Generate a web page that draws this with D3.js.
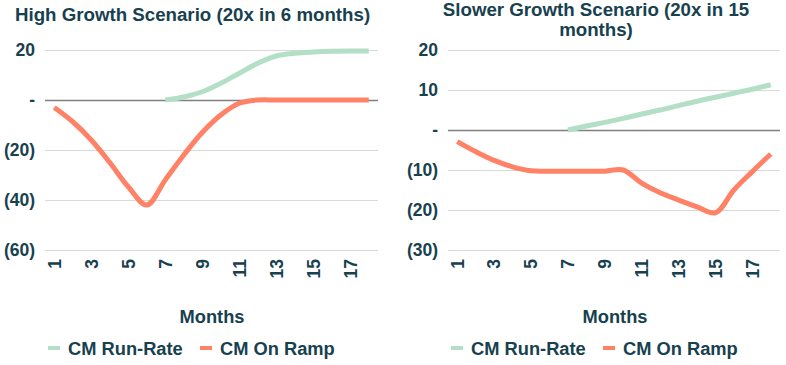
<!DOCTYPE html>
<html>
<head>
<meta charset="utf-8">
<script src="https://cdn.jsdelivr.net/npm/d3@7"></script>
<style>
  html, body { margin: 0; padding: 0; background: #ffffff; }
  svg { display: block; }
  text { font-family: "Liberation Sans", Arial, sans-serif; font-weight: bold; fill: #17414f; }
</style>
</head>
<body>
<svg id="chart" width="786" height="365"></svg>
<script>
// ---- data ----
const months = [1, 2, 3, 4, 5, 6, 7, 8, 9, 10, 11, 12, 13, 14, 15, 16, 17, 18];
const monthTickLabels = [1, 3, 5, 7, 9, 11, 13, 15, 17];

const highRunRate = [null, null, null, null, null, null, 0, 1.2, 3.3, 6.7, 10.7, 14.7, 17.6, 18.7, 19.2, 19.5, 19.6, 19.6];
const highOnRamp  = [-3, -8.7, -16, -25, -34.7, -42, -32, -22, -13, -6, -1.3, 0, 0, 0, 0, 0, 0, 0];
const highTicks   = [20, 0, -20, -40, -60];

const slowRunRate = [null, null, null, null, null, null, 0, 1, 1.9, 2.9, 4, 5, 6.1, 7.2, 8.2, 9.2, 10.2, 11.3];
const slowOnRamp  = [-2.9, -5.4, -7.6, -9.2, -10.2, -10.3, -10.3, -10.3, -10.3, -10, -13.3, -15.7, -17.5, -19.2, -20.7, -15, -10.4, -6];
const slowTicks   = [20, 10, 0, -10, -20, -30];

const seriesNames = ["CM Run-Rate", "CM On Ramp"];
const seriesColors = ["#b3dfc7", "#ff8166"];

const svg = d3.select("#chart");

function fmt(v) {
  if (v === 0) return "-";
  if (v < 0) return "(" + Math.abs(v) + ")";
  return String(v);
}

function panel(cfg) {
  const g = svg.append("g");
  const x = d3.scaleBand().domain(months).range([cfg.x0, cfg.x1]);
  const y = d3.scaleLinear().domain([d3.min(cfg.ticks), d3.max(cfg.ticks)]).range([250, 50]);
  const cx = m => x(m) + x.bandwidth() / 2;

  // title (one text element per line)
  cfg.title.forEach((line, i) => {
    g.append("text")
      .attr("x", cfg.titleX)
      .attr("y", cfg.titleY + i * cfg.titleLH)
      .attr("text-anchor", cfg.titleAnchor)
      .style("font-size", "18.7px")
      .text(line);
  });

  // y axis + gridlines
  const ya = g.append("g")
    .attr("transform", `translate(${cfg.x0},0)`)
    .call(d3.axisLeft(y).tickValues(cfg.ticks).tickSize(-(cfg.x1 - cfg.x0)).tickPadding(10).tickFormat(fmt));
  ya.select(".domain").remove();
  ya.selectAll(".tick line")
    .attr("stroke", d => d === 0 ? "#808080" : "#d9d9d9")
    .attr("stroke-width", d => d === 0 ? 1.5 : 1);
  ya.selectAll(".tick text").style("font-size", "17.5px").attr("fill", "#17414f");

  // x axis labels
  const xa = g.append("g")
    .attr("transform", `translate(0,250)`)
    .call(d3.axisBottom(x).tickValues(monthTickLabels).tickSize(0));
  xa.select(".domain").remove();
  xa.selectAll(".tick text")
    .style("font-size", "17.5px")
    .attr("fill", "#17414f")
    .attr("text-anchor", "end")
    .attr("transform", "rotate(-90)")
    .attr("x", -9)
    .attr("y", 0)
    .attr("dy", "0.36em");

  // axis title
  g.append("text")
    .attr("x", cfg.monthsX).attr("y", 323)
    .attr("text-anchor", "middle")
    .style("font-size", "18.3px")
    .text("Months");

  // lines
  const line = d3.line()
    .defined(d => d.v !== null)
    .x(d => cx(d.m))
    .y(d => y(d.v))
    .curve(d3.curveCatmullRom.alpha(0.5));

  [cfg.run, cfg.ramp].forEach((vals, i) => {
    const data = months.map((m, k) => ({ m: m, v: vals[k] }));
    g.append("path")
      .datum(data.filter(d => d.v !== null))
      .attr("d", line)
      .attr("fill", "none")
      .attr("stroke", seriesColors[i])
      .attr("stroke-width", 5)
      .attr("stroke-linejoin", "round");
  });

  // legend
  seriesNames.forEach((name, i) => {
    const lx = cfg.legendX[i];
    g.append("line")
      .attr("x1", lx).attr("x2", lx + 12)
      .attr("y1", 348).attr("y2", 348)
      .attr("stroke", seriesColors[i]).attr("stroke-width", 4);
    g.append("text")
      .attr("x", lx + 20).attr("y", 355)
      .style("font-size", "18.3px")
      .text(name);
  });
}

panel({
  x0: 45, x1: 378,
  ticks: highTicks, run: highRunRate, ramp: highOnRamp,
  title: ["High Growth Scenario (20x in 6 months)"],
  titleX: 15, titleY: 21, titleAnchor: "start", titleLH: 0,
  monthsX: 212, legendX: [48, 200]
});

panel({
  x0: 448, x1: 780,
  ticks: slowTicks, run: slowRunRate, ramp: slowOnRamp,
  title: ["Slower Growth Scenario (20x in 15", "months)"],
  titleX: 596, titleY: 16, titleAnchor: "middle", titleLH: 20,
  monthsX: 615, legendX: [451, 603]
});
</script>
</body>
</html>
